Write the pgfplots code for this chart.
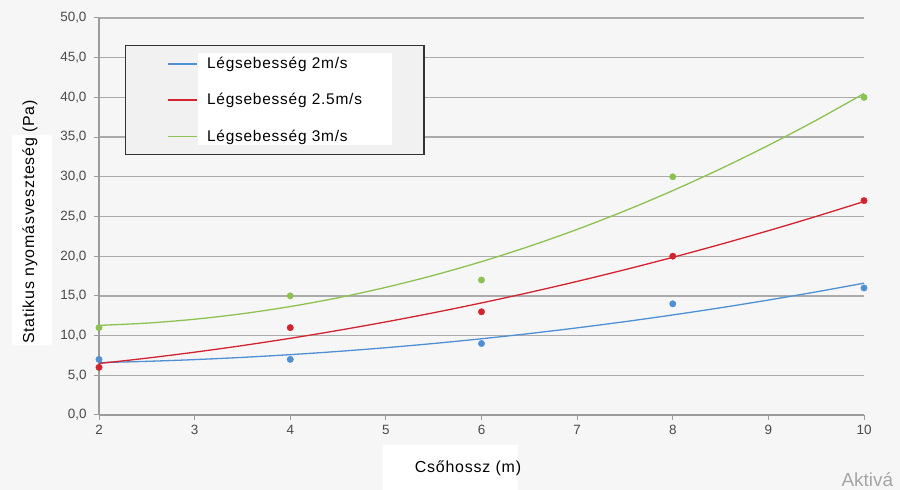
\documentclass[border=0pt]{standalone}
\usepackage{pgfplots}
\pgfplotsset{compat=1.18}
\usepackage{fontspec}
\setmainfont{Liberation Sans}
\newfontfamily\spfont{Liberation Sans}[LetterSpace=5]
\definecolor{bgc}{HTML}{F6F6F6}
\definecolor{gridc}{HTML}{ABABAB}
\definecolor{axisc}{HTML}{9C9C9C}
\definecolor{tickc}{HTML}{4A4A4A}
\definecolor{cblue}{HTML}{4F8FD3}
\definecolor{cred}{HTML}{D2232E}
\definecolor{cgreen}{HTML}{8CC251}
\definecolor{legbg}{HTML}{F1F1F1}
\definecolor{legframe}{HTML}{333333}
\pgfplotsset{
  firstleg/.style={legend image code/.code={
    \fill[white, overlay] (72bp,10.5bp) rectangle (265bp,-80.5bp);
    \path (0bp,-17.5bp) (0bp,17.5bp);
    \draw[##1, line width=1.6bp] (42bp,0bp) -- (71bp,0bp);
  }},
}
\begin{document}
\begin{tikzpicture}[x=1bp,y=1bp]
\fill[bgc] (0,0) rectangle (900,490);
\useasboundingbox (0,0) rectangle (900,490);
\fill[white] (12,145) rectangle (52,355);
\fill[white] (383,0) rectangle (518,45);
\begin{axis}[
  at={(99bp,75bp)}, anchor=south west,
  scale only axis, width=765bp, height=397bp,
  xmin=2, xmax=10, ymin=0, ymax=50,
  xtick={2,3,...,10}, ytick={0,5,...,50},
  axis x line*=bottom, axis y line*=left,
  xtick pos=bottom, ytick pos=left,
  x axis line style={color=axisc, line width=1.3bp},
  y axis line style={color=axisc, line width=1.3bp},
  tick style={color=axisc, line width=1bp},
  tick align=outside, major tick length=5bp,
  ymajorgrids, xmajorgrids=false, grid style={color=gridc, line width=1.3bp},
  clip=false,
  ticklabel style={font=\fontsize{13.5}{15}\selectfont, color=tickc},
  yticklabel style={xshift=-4bp},
  xticklabel style={yshift=-2bp},
  /pgf/number format/assume math mode=true,
  yticklabel={\pgfmathprintnumber[fixed,fixed zerofill,precision=1,use comma]{\tick}},
  xticklabel={\pgfmathprintnumber[fixed,precision=0]{\tick}},
  legend cell align=left,
  legend style={at={(rel axis cs:0.034,0.932)}, anchor=north west,
    draw=legframe, line width=1.2bp, fill=legbg,
    inner xsep=0pt, inner ysep=0pt, row sep=0pt, column sep=9bp,
    font=\spfont\fontsize{15.5}{17}\selectfont,
    nodes={inner xsep=0pt, inner ysep=0pt, text width=217bp, anchor=west}},
  legend image code/.code={
    \path (0bp,-17.5bp) (0bp,17.5bp);
    \draw[#1, line width=1.6bp] (42bp,0bp) -- (71bp,0bp);
  },
]
% trend curves (quadratic fits)
\addplot[cblue, line width=1.3bp, smooth, firstleg] table {
x y
2 6.600
2.5 6.756
3 6.975
3.5 7.256
4 7.600
4.5 8.006
5 8.475
5.5 9.006
6 9.600
6.5 10.256
7 10.975
7.5 11.756
8 12.600
8.5 13.506
9 14.475
9.5 15.506
10 16.600
};
\addlegendentry{Légsebesség 2m/s}
\addplot[cred, line width=1.3bp, smooth] table {
x y
2 6.486
2.5 7.158
3 7.911
3.5 8.744
4 9.657
4.5 10.651
5 11.725
5.5 12.879
6 14.114
6.5 15.430
7 16.825
7.5 18.301
8 19.857
8.5 21.494
9 23.211
9.5 25.008
10 26.886
};
\addlegendentry{Légsebesség 2.5m/s}
\addplot[cgreen, line width=1.3bp, smooth] table {
x y
2 11.286
2.5 11.571
3 12.061
3.5 12.756
4 13.657
4.5 14.763
5 16.075
5.5 17.592
6 19.314
6.5 21.242
7 23.375
7.5 25.713
8 28.257
8.5 31.006
9 33.961
9.5 37.121
10 40.486
};
\addlegendentry{Légsebesség 3m/s}
% measured points
\addplot[only marks, mark=*, mark size=3.2bp, color=cblue, forget plot] coordinates {(2,7) (4,7) (6,9) (8,14) (10,16)};
\addplot[only marks, mark=*, mark size=3.2bp, color=cred, forget plot] coordinates {(2,6) (4,11) (6,13) (8,20) (10,27)};
\addplot[only marks, mark=*, mark size=3.2bp, color=cgreen, forget plot] coordinates {(2,11) (4,15) (6,17) (8,30) (10,40)};
\end{axis}
\node[rotate=90, font=\spfont\fontsize{16}{18}\selectfont] at (30,268) {Statikus nyomásveszteség (Pa)};
\node[font=\spfont\fontsize{16}{18}\selectfont] at (468,22) {Csőhossz (m)};
\node[anchor=base west, font=\fontsize{19}{21}\selectfont, color=black!35] at (838,3) {Aktivá};
\end{tikzpicture}
\end{document}
